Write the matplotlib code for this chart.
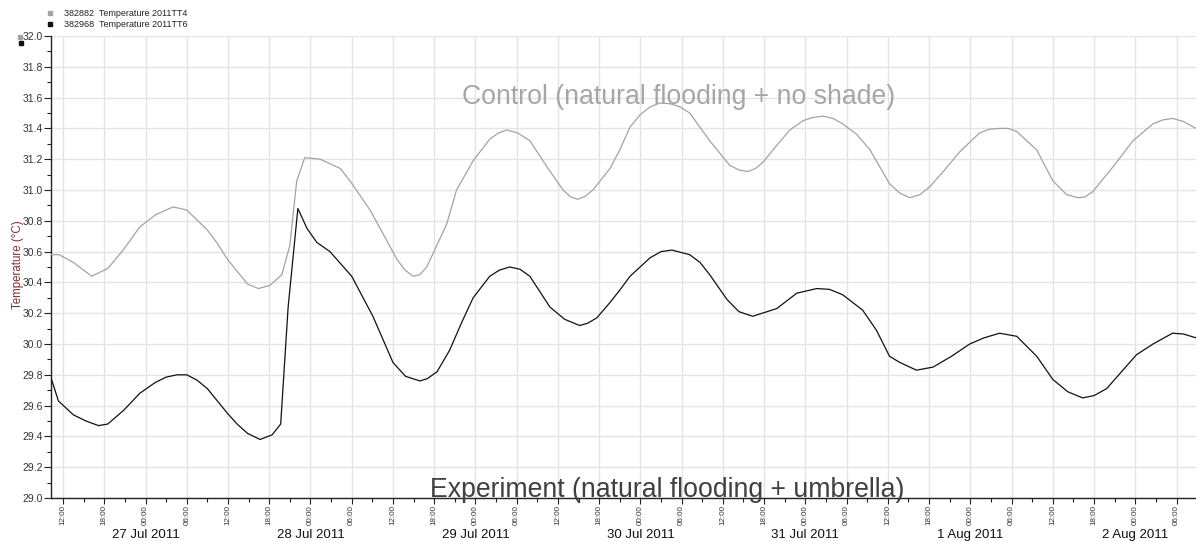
import matplotlib
matplotlib.use("Agg")
import matplotlib.pyplot as plt
import matplotlib.dates as mdates
from matplotlib.ticker import MultipleLocator
from matplotlib.lines import Line2D
import pandas as pd

plt.rcParams['font.family'] = ['Liberation Sans', 'DejaVu Sans']

# Logger TT4 - control plot (natural flooding, no shade)
tt4_times = [
    "2011-07-26 10:15", "2011-07-26 11:25", "2011-07-26 13:30", "2011-07-26 16:10",
    "2011-07-26 18:30", "2011-07-26 20:45", "2011-07-26 23:10", "2011-07-27 01:30",
    "2011-07-27 04:00", "2011-07-27 06:00", "2011-07-27 09:00", "2011-07-27 10:30",
    "2011-07-27 11:55", "2011-07-27 14:50", "2011-07-27 16:25", "2011-07-27 18:05",
    "2011-07-27 19:50", "2011-07-27 21:00", "2011-07-27 22:00", "2011-07-27 23:10",
    "2011-07-28 01:25", "2011-07-28 04:20", "2011-07-28 05:45", "2011-07-28 08:40",
    "2011-07-28 12:35", "2011-07-28 13:45", "2011-07-28 14:55", "2011-07-28 15:55",
    "2011-07-28 16:55", "2011-07-28 19:50", "2011-07-28 21:15", "2011-07-28 23:40",
    "2011-07-29 02:05", "2011-07-29 03:20", "2011-07-29 04:35", "2011-07-29 06:10",
    "2011-07-29 07:55", "2011-07-29 10:25", "2011-07-29 12:45", "2011-07-29 13:50",
    "2011-07-29 14:55", "2011-07-29 16:00", "2011-07-29 17:05", "2011-07-29 19:35",
    "2011-07-29 21:00", "2011-07-29 22:30", "2011-07-30 00:00", "2011-07-30 01:25",
    "2011-07-30 02:50", "2011-07-30 04:20", "2011-07-30 05:45", "2011-07-30 07:10",
    "2011-07-30 10:05", "2011-07-30 13:00", "2011-07-30 14:20", "2011-07-30 15:40",
    "2011-07-30 16:45", "2011-07-30 17:50", "2011-07-30 19:50", "2011-07-30 21:45",
    "2011-07-30 23:40", "2011-07-31 01:00", "2011-07-31 02:35", "2011-07-31 04:00",
    "2011-07-31 05:25", "2011-07-31 07:30", "2011-07-31 09:25", "2011-07-31 12:15",
    "2011-07-31 13:45", "2011-07-31 15:10", "2011-07-31 16:40", "2011-07-31 18:05",
    "2011-07-31 20:15", "2011-07-31 22:30", "2011-08-01 01:20", "2011-08-01 02:45",
    "2011-08-01 04:15", "2011-08-01 05:30", "2011-08-01 06:45", "2011-08-01 09:40",
    "2011-08-01 12:00", "2011-08-01 14:00", "2011-08-01 15:40", "2011-08-01 16:40",
    "2011-08-01 17:50", "2011-08-01 20:45", "2011-08-01 23:40", "2011-08-02 02:35",
    "2011-08-02 04:00", "2011-08-02 05:25", "2011-08-02 07:00", "2011-08-02 08:50",
]
tt4_temp = [
    30.58, 30.58, 30.53, 30.44,
    30.49, 30.61, 30.76, 30.84,
    30.89, 30.87, 30.74, 30.65,
    30.55, 30.39, 30.36, 30.38,
    30.45, 30.64, 31.06, 31.21,
    31.20, 31.14, 31.06, 30.87,
    30.55, 30.48, 30.44, 30.45,
    30.50, 30.78, 31.00, 31.19,
    31.33, 31.37, 31.39, 31.37,
    31.32, 31.15, 31.00, 30.955,
    30.94, 30.96, 31.00, 31.14,
    31.26, 31.41, 31.49, 31.54,
    31.565, 31.56, 31.54, 31.50,
    31.32, 31.16, 31.13, 31.12,
    31.14, 31.18, 31.29, 31.39,
    31.45, 31.47, 31.48, 31.465,
    31.43, 31.36, 31.26, 31.04,
    30.98, 30.95, 30.97, 31.02,
    31.13, 31.25, 31.37, 31.395,
    31.40, 31.40, 31.38, 31.26,
    31.06, 30.97, 30.95, 30.955,
    30.99, 31.15, 31.32, 31.43,
    31.455, 31.465, 31.445, 31.40,
]

# Logger TT6 - experiment plot (natural flooding, umbrella)
tt6_times = [
    "2011-07-26 10:15", "2011-07-26 11:20", "2011-07-26 13:30", "2011-07-26 15:20",
    "2011-07-26 17:10", "2011-07-26 18:30", "2011-07-26 20:50", "2011-07-26 23:10",
    "2011-07-27 01:25", "2011-07-27 03:00", "2011-07-27 04:35", "2011-07-27 06:00",
    "2011-07-27 07:30", "2011-07-27 09:00", "2011-07-27 11:55", "2011-07-27 13:20",
    "2011-07-27 14:50", "2011-07-27 16:40", "2011-07-27 18:25", "2011-07-27 19:40",
    "2011-07-27 20:45", "2011-07-27 22:10", "2011-07-27 23:30", "2011-07-28 00:55",
    "2011-07-28 02:50", "2011-07-28 06:00", "2011-07-28 09:05", "2011-07-28 12:00",
    "2011-07-28 13:50", "2011-07-28 15:55", "2011-07-28 17:00", "2011-07-28 18:25",
    "2011-07-28 20:15", "2011-07-28 22:00", "2011-07-28 23:40", "2011-07-29 02:05",
    "2011-07-29 03:30", "2011-07-29 05:00", "2011-07-29 06:30", "2011-07-29 07:55",
    "2011-07-29 10:50", "2011-07-29 13:00", "2011-07-29 15:10", "2011-07-29 16:20",
    "2011-07-29 17:40", "2011-07-29 19:35", "2011-07-29 21:00", "2011-07-29 22:30",
    "2011-07-30 01:25", "2011-07-30 03:00", "2011-07-30 04:35", "2011-07-30 07:10",
    "2011-07-30 08:40", "2011-07-30 10:05", "2011-07-30 12:35", "2011-07-30 14:20",
    "2011-07-30 16:20", "2011-07-30 19:50", "2011-07-30 22:45", "2011-07-31 01:40",
    "2011-07-31 03:30", "2011-07-31 05:25", "2011-07-31 08:20", "2011-07-31 10:20",
    "2011-07-31 12:15", "2011-07-31 13:45", "2011-07-31 16:10", "2011-07-31 18:35",
    "2011-07-31 21:15", "2011-07-31 23:55", "2011-08-01 02:00", "2011-08-01 04:15",
    "2011-08-01 06:45", "2011-08-01 09:40", "2011-08-01 12:00", "2011-08-01 14:10",
    "2011-08-01 16:20", "2011-08-01 18:00", "2011-08-01 19:50", "2011-08-01 22:00",
    "2011-08-02 00:10", "2011-08-02 02:35", "2011-08-02 05:25", "2011-08-02 07:00",
    "2011-08-02 08:50",
]
tt6_temp = [
    29.78, 29.63, 29.54, 29.50,
    29.47, 29.48, 29.57, 29.68,
    29.75, 29.785, 29.80, 29.80,
    29.765, 29.71, 29.55, 29.48,
    29.42, 29.38, 29.41, 29.48,
    30.24, 30.88, 30.75, 30.66,
    30.60, 30.44, 30.18, 29.88,
    29.79, 29.76, 29.775, 29.82,
    29.96, 30.14, 30.30, 30.44,
    30.48, 30.50, 30.485, 30.44,
    30.24, 30.16, 30.12, 30.135,
    30.17, 30.27, 30.35, 30.44,
    30.56, 30.60, 30.61, 30.58,
    30.53, 30.45, 30.29, 30.21,
    30.18, 30.23, 30.33, 30.36,
    30.355, 30.32, 30.22, 30.09,
    29.92, 29.88, 29.83, 29.85,
    29.92, 30.00, 30.04, 30.07,
    30.05, 29.92, 29.77, 29.69,
    29.65, 29.665, 29.71, 29.82,
    29.93, 30.00, 30.07, 30.065,
    30.04,
]

series_labels = ["382882  Temperature 2011TT4", "382968  Temperature 2011TT6"]
series_colors = ["#a3a3a3", "#111111"]
day_labels = ["27 Jul 2011", "28 Jul 2011", "29 Jul 2011", "30 Jul 2011",
              "31 Jul 2011", "1 Aug 2011", "2 Aug 2011"]
day_dates = ["2011-07-27", "2011-07-28", "2011-07-29", "2011-07-30",
             "2011-07-31", "2011-08-01", "2011-08-02"]
x_start, x_end = "2011-07-26 10:15", "2011-08-02 08:50"

t4 = pd.to_datetime(tt4_times)
t6 = pd.to_datetime(tt6_times)

fig = plt.figure(figsize=(11.96, 5.41), dpi=100)
ax = fig.add_axes([51 / 1196, 1 - 498 / 541, 1 - 51 / 1196, (498 - 36) / 541])

ax.plot(t4, tt4_temp, color=series_colors[0], lw=0.9, zorder=3,
        solid_joinstyle="round")
ax.plot(t6, tt6_temp, color=series_colors[1], lw=0.9, zorder=3,
        solid_joinstyle="round")

ax.set_xlim(pd.Timestamp(x_start), pd.Timestamp(x_end))
ax.set_ylim(29.0, 32.0)

# axes styling
for side in ("top", "right"):
    ax.spines[side].set_visible(False)
for side in ("left", "bottom"):
    ax.spines[side].set_color("#222222")
    ax.spines[side].set_linewidth(1.0)

ax.yaxis.set_major_locator(MultipleLocator(0.2))
ax.yaxis.set_minor_locator(MultipleLocator(0.1))
ax.yaxis.set_major_formatter(plt.FormatStrFormatter("%.1f"))
ax.xaxis.set_major_locator(mdates.HourLocator(byhour=[0, 6, 12, 18]))
ax.xaxis.set_minor_locator(mdates.HourLocator(byhour=[3, 9, 15, 21]))
ax.xaxis.set_major_formatter(mdates.DateFormatter("%H:%M"))

ax.tick_params(axis="y", which="major", length=5, width=0.8, labelsize=7.5,
               labelcolor="#333333", pad=1, color="#222222")
ax.tick_params(axis="y", which="minor", length=3, width=0.8, color="#222222")
ax.tick_params(axis="x", which="major", length=4, width=0.8, labelsize=5.8,
               labelcolor="#333333", pad=1.2, labelrotation=90, color="#222222")
ax.tick_params(axis="x", which="minor", length=3, width=0.8, color="#222222")

ax.grid(True, which="major", color="#e4e4e4", lw=1.0, zorder=0)
ax.set_axisbelow(True)

ax.set_ylabel("Temperature (°C)", fontsize=8.3, color="#8b2a2a")
ax.yaxis.set_label_coords(-0.0236, 0.505)

# day labels centred on midnight
for d, lab in zip(day_dates, day_labels):
    ax.annotate(lab, xy=(pd.Timestamp(d), 0), xycoords=("data", "axes fraction"),
                xytext=(0, -28.6), textcoords="offset points",
                ha="center", va="baseline", fontsize=9.5, color="#111111",
                annotation_clip=False)

# plot annotations
fig.text(679 / 1196, 1 - 97 / 541, "Control (natural flooding + no shade)",
         ha="center", va="center", fontsize=19.2, color="#a6a6a6")
fig.text(667 / 1196, 1 - 490 / 541, "Experiment (natural flooding + umbrella)",
         ha="center", va="center", fontsize=19.2, color="#404040", zorder=5)

# legend
handles = [Line2D([], [], ls="none", marker="s", markersize=3.5,
                  markerfacecolor=c, markeredgecolor=c) for c in series_colors]
leg = fig.legend(handles, series_labels, loc="upper left",
                 bbox_to_anchor=(40 / 1196, 1 - 3 / 541), frameon=False,
                 fontsize=6.5, handlelength=0.8, handletextpad=1.2,
                 labelspacing=0.15, borderpad=0.2)
for txt in leg.get_texts():
    txt.set_color("#222222")

# cursor markers at the top of the value axis
fig.lines.append(Line2D([20 / 1196], [1 - 37 / 541], transform=fig.transFigure,
                        ls="none", marker="s", markersize=3.5,
                        color=series_colors[0]))
fig.lines.append(Line2D([21 / 1196], [1 - 43 / 541], transform=fig.transFigure,
                        ls="none", marker="s", markersize=3.5,
                        color=series_colors[1]))

fig.savefig("out.png", dpi=100)
